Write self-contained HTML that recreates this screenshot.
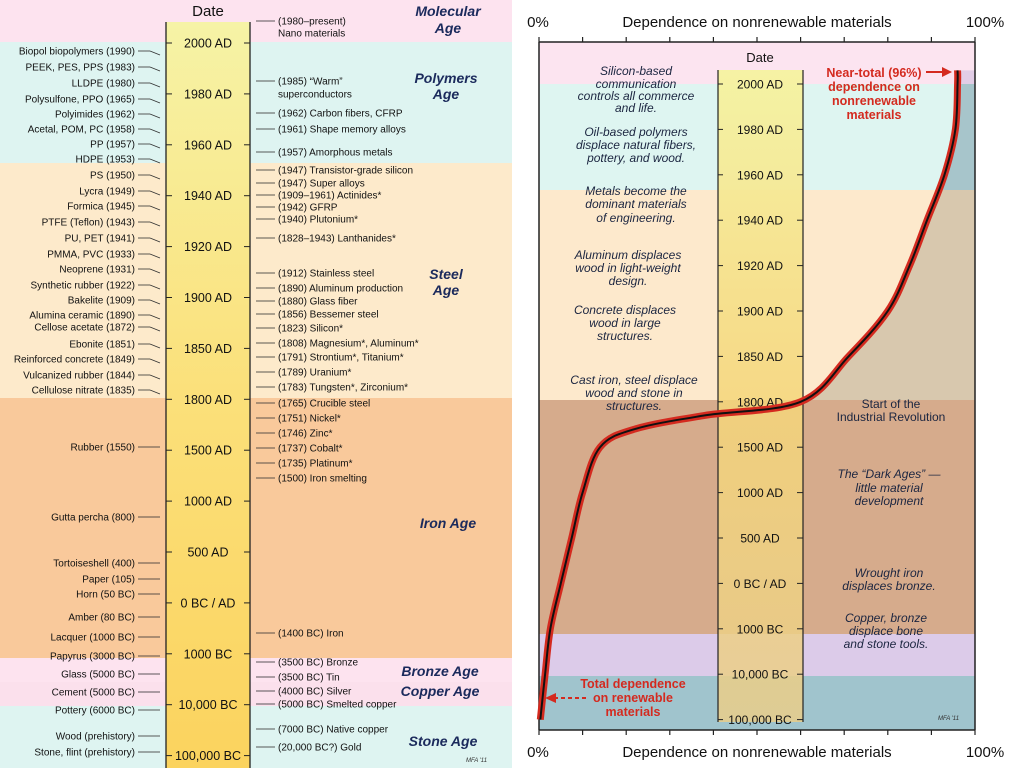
<!DOCTYPE html>
<html><head><meta charset="utf-8"><style>
html,body{margin:0;padding:0;background:#fff;}
svg{display:block;font-family:"Liberation Sans",sans-serif;}
</style></head><body>
<svg id="root" width="1024" height="768" viewBox="0 0 1024 768">
<defs>
<linearGradient id="colL" x1="0" y1="0" x2="0" y2="1"><stop offset="0" stop-color="#f6f3a6"/><stop offset="0.5" stop-color="#fbe07a"/><stop offset="1" stop-color="#fbd35e"/></linearGradient>
<linearGradient id="colR" x1="0" y1="0" x2="0" y2="1"><stop offset="0" stop-color="#f6f3a0" stop-opacity="0.95"/><stop offset="0.5" stop-color="#f5d67a" stop-opacity="0.85"/><stop offset="1" stop-color="#e9cd8a" stop-opacity="0.85"/></linearGradient>
<clipPath id="rightOfCurve"><path id="clipPathShape" d=""/></clipPath>
</defs>

<!-- LEFT PANEL -->
<g>
<rect x="0" y="0" width="512" height="42" fill="#fde3ef"/>
<rect x="0" y="42" width="512" height="121" fill="#def4f1"/>
<rect x="0" y="163" width="512" height="235" fill="#fdeacb"/>
<rect x="0" y="398" width="512" height="260" fill="#f9c99b"/>
<rect x="0" y="658" width="512" height="24" fill="#fde3ef"/>
<rect x="0" y="682" width="512" height="24" fill="#fbe0ec"/>
<rect x="0" y="706" width="512" height="62" fill="#def4f1"/>
<rect x="166" y="22" width="84" height="746" fill="url(#colL)"/>
<line x1="166" y1="22" x2="166" y2="768" stroke="#222" stroke-width="1.3"/>
<line x1="250" y1="22" x2="250" y2="768" stroke="#222" stroke-width="1.3"/>
<text x="208" y="16" font-size="15" text-anchor="middle" fill="#111">Date</text>
<g id="leftTicks"></g>
<g id="leftList" font-size="10" fill="#111"></g>
<g id="rightList" font-size="10" fill="#111"></g>
<g font-size="14" font-weight="bold" font-style="italic" fill="#1b2a5c" text-anchor="middle">
<text x="448" y="16">Molecular</text><text x="448" y="33">Age</text>
<text x="446" y="83">Polymers</text><text x="446" y="99">Age</text>
<text x="446" y="279">Steel</text><text x="446" y="295">Age</text>
<text x="448" y="528">Iron Age</text>
<text x="440" y="676">Bronze Age</text>
<text x="440" y="696">Copper Age</text>
<text x="443" y="746">Stone Age</text>
</g>
<text x="466" y="762" font-size="6" font-style="italic" fill="#333">MFA '11</text>
</g>

<!-- RIGHT PANEL -->
<g>
<g id="bands"></g>
<g clip-path="url(#rightOfCurve)" id="bandsDark"></g>
<rect x="718" y="70" width="85" height="652" fill="url(#colR)"/>
<line x1="718" y1="70" x2="718" y2="722" stroke="#222" stroke-width="1.2"/>
<line x1="803" y1="70" x2="803" y2="722" stroke="#222" stroke-width="1.2"/>
<text x="760" y="62" font-size="13" text-anchor="middle" fill="#111">Date</text>
<g id="rightTicks"></g>
<line x1="539" y1="42" x2="975" y2="42" stroke="#222" stroke-width="1.5"/>
<line x1="539" y1="730" x2="975" y2="730" stroke="#222" stroke-width="1.5"/>
<line x1="539" y1="42" x2="539" y2="730" stroke="#222" stroke-width="1.5"/>
<line x1="975" y1="42" x2="975" y2="730" stroke="#222" stroke-width="1.5"/>
<g id="pctTicks"></g>
<text x="538" y="27" font-size="15" text-anchor="middle" fill="#111">0%</text>
<text x="985" y="27" font-size="15" text-anchor="middle" fill="#111">100%</text>
<text x="757" y="27" font-size="15" text-anchor="middle" fill="#111">Dependence on nonrenewable materials</text>
<text x="538" y="757" font-size="15" text-anchor="middle" fill="#111">0%</text>
<text x="985" y="757" font-size="15" text-anchor="middle" fill="#111">100%</text>
<text x="757" y="757" font-size="15" text-anchor="middle" fill="#111">Dependence on nonrenewable materials</text>
<g font-size="12" font-style="italic" fill="#1b2540" text-anchor="middle">
<text x="636" y="75">Silicon-based</text><text x="636" y="88">communication</text><text x="636" y="100">controls all commerce</text><text x="636" y="112">and life.</text>
<text x="636" y="136">Oil-based polymers</text><text x="636" y="149">displace natural fibers,</text><text x="636" y="162">pottery, and wood.</text>
<text x="636" y="195">Metals become the</text><text x="636" y="208">dominant materials</text><text x="636" y="222">of engineering.</text>
<text x="628" y="259">Aluminum displaces</text><text x="628" y="272">wood in light-weight</text><text x="628" y="285">design.</text>
<text x="625" y="314">Concrete displaces</text><text x="625" y="327">wood in large</text><text x="625" y="340">structures.</text>
<text x="634" y="384">Cast iron, steel displace</text><text x="634" y="397">wood and stone in</text><text x="634" y="410">structures.</text>
<text x="891" y="408" font-style="normal">Start of the</text><text x="891" y="421" font-style="normal">Industrial Revolution</text>
<text x="889" y="478">The “Dark Ages” —</text><text x="889" y="492">little material</text><text x="889" y="505">development</text>
<text x="889" y="577">Wrought iron</text><text x="889" y="590">displaces bronze.</text>
<text x="886" y="622">Copper, bronze</text><text x="886" y="635">displace bone</text><text x="886" y="648">and stone tools.</text>
</g>
<g font-size="12.5" font-weight="bold" fill="#d42a1f" text-anchor="middle">
<text x="874" y="77">Near-total (96%)</text><text x="874" y="91">dependence on</text><text x="874" y="105">nonrenewable</text><text x="874" y="119">materials</text>
<text x="633" y="688">Total dependence</text><text x="633" y="702">on renewable</text><text x="633" y="716">materials</text>
</g>
<line x1="926" y1="72" x2="944" y2="72" stroke="#d42a1f" stroke-width="2"/>
<polygon points="952,72 942,67 942,77" fill="#d42a1f"/>
<line x1="586" y1="698" x2="556" y2="698" stroke="#d42a1f" stroke-width="2" stroke-dasharray="4,3"/>
<polygon points="545,698 556,693 556,703" fill="#d42a1f"/>
<g id="curveG"></g>
<text x="938" y="720" font-size="6" font-style="italic" fill="#333">MFA '11</text>
</g>
</svg>
<script>
// ---- data ----
const dateLabels = ["2000 AD","1980 AD","1960 AD","1940 AD","1920 AD","1900 AD","1850 AD","1800 AD","1500 AD","1000 AD","500 AD","0 BC / AD","1000 BC","10,000 BC","100,000 BC"];
const curveDateIdx = [14, 13, 12, 11, 10, 9, 8, 7.6, 7.3, 7, 6, 5, 4, 3, 2, 1, 0, -0.3];
const curvePct =     [0.3, 1.4, 2.6, 5, 7.5, 10, 14, 22, 38, 60, 71, 80, 85, 89, 93, 95.5, 96, 96];
const pctTickValues = [0,10,20,30,40,50,60,70,80,90,100];
const leftItems = ["Biopol biopolymers (1990)","PEEK, PES, PPS (1983)","LLDPE (1980)","Polysulfone, PPO (1965)","Polyimides (1962)","Acetal, POM, PC (1958)","PP (1957)","HDPE (1953)","PS (1950)","Lycra (1949)","Formica (1945)","PTFE (Teflon) (1943)","PU, PET (1941)","PMMA, PVC (1933)","Neoprene (1931)","Synthetic rubber (1922)","Bakelite (1909)","Alumina ceramic (1890)","Cellose acetate (1872)","Ebonite (1851)","Reinforced concrete (1849)","Vulcanized rubber (1844)","Cellulose nitrate (1835)","Rubber (1550)","Gutta percha (800)","Tortoiseshell (400)","Paper (105)","Horn (50 BC)","Amber (80 BC)","Lacquer (1000 BC)","Papyrus (3000 BC)","Glass (5000 BC)","Cement (5000 BC)","Pottery (6000 BC)","Wood (prehistory)","Stone, flint (prehistory)"];
const leftItemY = [51,67,83,99,114,129,144,159,175,191,206,222,238,254,269,285,300,315,327,344,359,375,390,447,517,563,579,594,617,637,656,674,692,710,736,752];
const rightItems = ["(1980–present)","Nano materials","(1985) “Warm”","superconductors","(1962) Carbon fibers, CFRP","(1961) Shape memory alloys","(1957) Amorphous metals","(1947) Transistor-grade silicon","(1947) Super alloys","(1909–1961) Actinides*","(1942) GFRP","(1940) Plutonium*","(1828–1943) Lanthanides*","(1912) Stainless steel","(1890) Aluminum production","(1880) Glass fiber","(1856) Bessemer steel","(1823) Silicon*","(1808)  Magnesium*, Aluminum*","(1791) Strontium*, Titanium*","(1789) Uranium*","(1783) Tungsten*, Zirconium*","(1765) Crucible steel","(1751) Nickel*","(1746) Zinc*","(1737) Cobalt*","(1735) Platinum*","(1500) Iron smelting","(1400 BC) Iron","(3500 BC) Bronze","(3500 BC) Tin","(4000 BC) Silver","(5000 BC) Smelted copper","(7000 BC) Native copper","(20,000 BC?) Gold"];
const rightItemY = [21,33,81,94,113,129,152,170,183,195,207,219,238,273,288,301,314,328,343,357,372,387,403,418,433,448,463,478,633,662,677,691,704,729,747];

const NS="http://www.w3.org/2000/svg";
function mk(tag,attrs,parent){const e=document.createElementNS(NS,tag);for(const k in attrs)e.setAttribute(k,attrs[k]);parent.appendChild(e);return e;}
// axes
const xPct = p => 539 + p/100*436;
const yR = i => 84 + i*45.4;
const yL = i => 43 + i*50.9;

// left ticks
const lt=document.getElementById('leftTicks');
dateLabels.forEach((d,i)=>{const y=yL(i);
 mk('line',{x1:166,y1:y,x2:172,y2:y,stroke:'#222'},lt);
 mk('line',{x1:244,y1:y,x2:250,y2:y,stroke:'#222'},lt);
 const t=mk('text',{x:208,y:y+4.5,'font-size':12.5,'text-anchor':'middle',fill:'#111'},lt);t.textContent=d;
 
 
});
const ll=document.getElementById('leftList');
leftItems.forEach((s,i)=>{const y=leftItemY[i];
 const t=mk('text',{x:135,y:y+3.5,'text-anchor':'end'},ll);t.textContent=s;
 
 
 mk('line',{x1:138,y1:y,x2:150,y2:y,stroke:'#333','stroke-width':0.8},ll);
 mk('line',{x1:150,y1:y,x2:160,y2:y+(i<23?4:0),stroke:'#333','stroke-width':0.8},ll);
});
const rl=document.getElementById('rightList');
rightItems.forEach((s,i)=>{const y=rightItemY[i];
 const t=mk('text',{x:278,y:y+3.5},rl);t.textContent=s;
 
 
 if(!(i===1||i===3)) {mk('line',{x1:262,y1:y,x2:275,y2:y,stroke:'#333','stroke-width':0.8},rl);
 mk('line',{x1:256,y1:y,x2:262,y2:y,stroke:'#333','stroke-width':0.8},rl);}
});

// right panel bands
const bands=document.getElementById('bands'), bd=document.getElementById('bandsDark');
[[42,84,'#fce4f0','#e2cde6'],[84,190,'#def5f1','#a7c5cb'],[190,400,'#fde9cc','#d8c8ae'],[400,634,'#d6ab8c','#d6ab8c'],[634,676,'#dccbe9','#dccbe9'],[676,730,'#a0c4cd','#a0c4cd']].forEach(b=>{
 mk('rect',{x:539,y:b[0],width:436,height:b[1]-b[0],fill:b[2]},bands);
 mk('rect',{x:539,y:b[0],width:436,height:b[1]-b[0],fill:b[3]},bd);
});
// pct ticks
const pt=document.getElementById('pctTicks');
pctTickValues.forEach(p=>{const x=xPct(p);
 mk('line',{x1:x,y1:37,x2:x,y2:42,stroke:'#222','stroke-width':1.2},pt);
 mk('line',{x1:x,y1:730,x2:x,y2:735,stroke:'#222','stroke-width':1.2},pt);
});
// right ticks
const rt=document.getElementById('rightTicks');
dateLabels.forEach((d,i)=>{const y=yR(i);
 mk('line',{x1:718,y1:y,x2:723,y2:y,stroke:'#222'},rt);
 mk('line',{x1:797,y1:y,x2:803,y2:y,stroke:'#222'},rt);
 const t=mk('text',{x:760,y:y+4.5,'font-size':12,'text-anchor':'middle',fill:'#111'},rt);t.textContent=d;
 
 
});
// curve (catmull-rom)
const pts=curveDateIdx.map((d,i)=>[xPct(curvePct[i]),yR(d)]);
let dPath='M'+pts[0][0]+','+pts[0][1];
for(let i=0;i<pts.length-1;i++){const p0=pts[Math.max(0,i-1)],p1=pts[i],p2=pts[i+1],p3=pts[Math.min(pts.length-1,i+2)];
 const c1=[p1[0]+(p2[0]-p0[0])/6,p1[1]+(p2[1]-p0[1])/6],c2=[p2[0]-(p3[0]-p1[0])/6,p2[1]-(p3[1]-p1[1])/6];
 dPath+=` C${c1[0]},${c1[1]} ${c2[0]},${c2[1]} ${p2[0]},${p2[1]}`;}
const last=pts[pts.length-1];
document.getElementById('clipPathShape').setAttribute('d',dPath+` L975,${last[1]} L975,730 L${pts[0][0]},730 Z`);
const cg=document.getElementById('curveG');
mk('path',{d:dPath,fill:'none',stroke:'#d42a1f','stroke-width':7,'stroke-linecap':'butt'},cg);
const cl=mk('path',{d:dPath,fill:'none',stroke:'#111','stroke-width':2},cg);


</script>
</body></html>
